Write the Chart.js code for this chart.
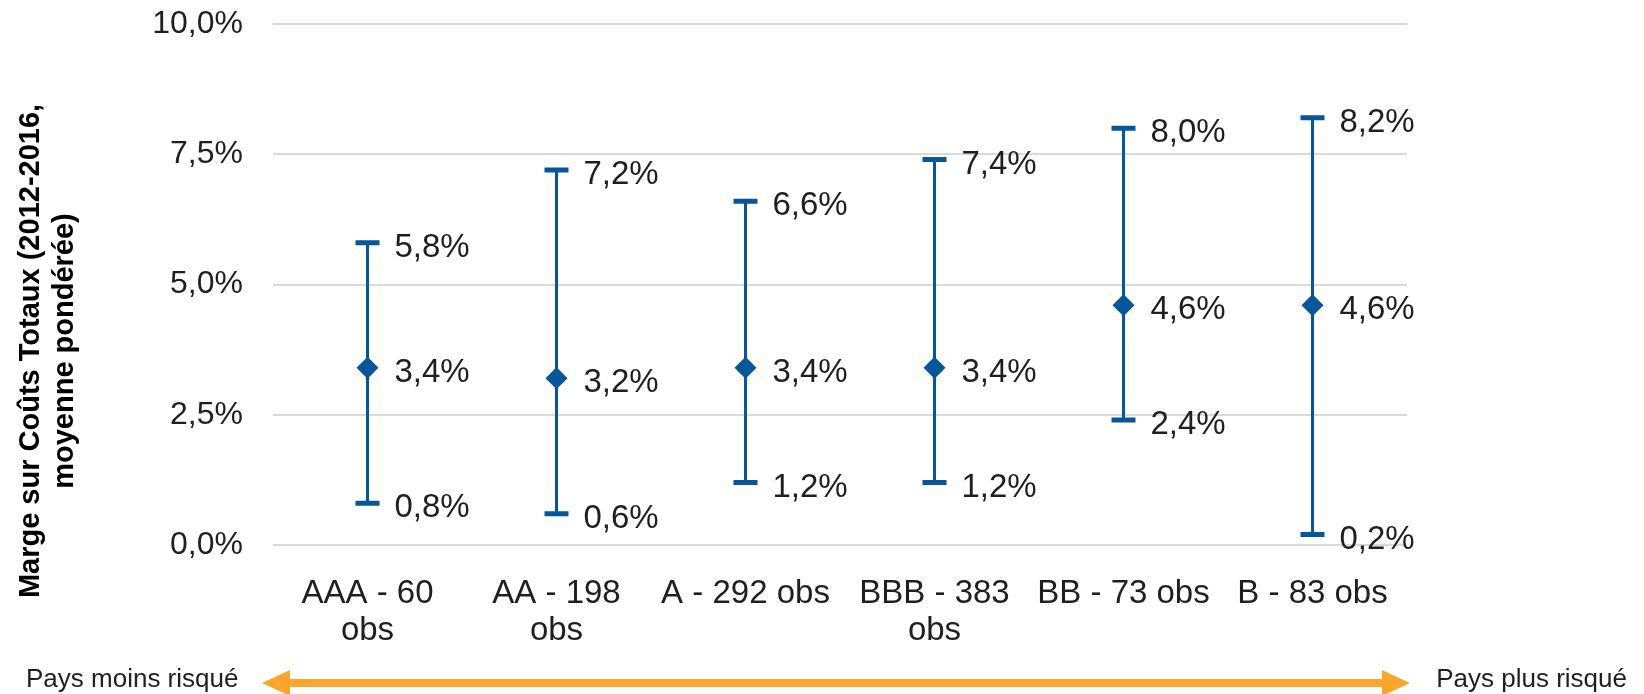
<!DOCTYPE html>
<html lang="fr">
<head>
  <meta charset="UTF-8" />
  <title>Marge sur Coûts Totaux</title>
  <script src="https://cdn.jsdelivr.net/npm/chart.js"></script>
  <style>
    body {
      margin: 0;
      background: white;
    }
    .wrap {
      width: 1644px;
      height: 694px;
    }
  </style>
</head>
<body>
  <div class="wrap">
    <canvas id="chart" width="1644" height="694"></canvas>
  </div>

  <script>
    const categories = [
      ['AAA - 60', 'obs'],
      ['AA - 198', 'obs'],
      'A - 292 obs',
      ['BBB - 383', 'obs'],
      'BB - 73 obs',
      'B - 83 obs'
    ];
    const moyenne = [3.4, 3.2, 3.4, 3.4, 4.6, 4.6];
    const bas = [0.8, 0.6, 1.2, 1.2, 2.4, 0.2];
    const haut = [5.8, 7.2, 6.6, 7.4, 8.0, 8.2];
    const yTicks = [0, 2.5, 5, 7.5, 10];

    const BLEU = '#06569A';
    const TEXTE = '#1f1f1f';
    const ORANGE = '#FBA62A';
    const fmt = v => v.toFixed(1).replace('.', ',') + '%';

    // barres d'erreur + étiquettes
    const errorBars = {
      id: 'errorBars',
      beforeDatasetsDraw(chart) {
        const ctx = chart.ctx;
        const x = chart.scales.x, y = chart.scales.y;
        ctx.save();
        ctx.strokeStyle = BLEU;
        moyenne.forEach((m, i) => {
          const px = x.getPixelForValue(i);
          const yl = y.getPixelForValue(bas[i]);
          const yh = y.getPixelForValue(haut[i]);
          ctx.lineWidth = 3;
          ctx.beginPath();
          ctx.moveTo(px, yl);
          ctx.lineTo(px, yh);
          ctx.stroke();
          ctx.lineWidth = 5;
          ctx.beginPath();
          ctx.moveTo(px - 12, yl); ctx.lineTo(px + 12, yl);
          ctx.moveTo(px - 12, yh); ctx.lineTo(px + 12, yh);
          ctx.stroke();
        });
        ctx.restore();
      },
      afterDatasetsDraw(chart) {
        const ctx = chart.ctx;
        const x = chart.scales.x, y = chart.scales.y;
        ctx.save();
        ctx.font = '33px "Liberation Sans", Arial, sans-serif';
        ctx.fillStyle = TEXTE;
        ctx.textAlign = 'left';
        ctx.textBaseline = 'middle';
        moyenne.forEach((m, i) => {
          const px = x.getPixelForValue(i) + 27;
          [bas[i], m, haut[i]].forEach(v => {
            ctx.fillText(fmt(v), px, y.getPixelForValue(v) + 5);
          });
        });
        ctx.restore();
      },
      afterDraw(chart) {
        const ctx = chart.ctx;
        ctx.save();
        // titre de l'axe Y
        ctx.fillStyle = '#000';
        ctx.font = 'bold 29px "Liberation Sans Narrow", "Arial Narrow", "Liberation Sans", sans-serif';
        ctx.textAlign = 'center';
        ctx.textBaseline = 'middle';
        ctx.save();
        ctx.translate(33, 351);
        ctx.rotate(-Math.PI / 2);
        ctx.fillText('Marge sur Coûts Totaux (2012-2016,', 0, -2);
        ctx.fillText('moyenne pondérée)', 0, 32);
        ctx.restore();

        // flèche orange
        const yA = 683, x1 = 262, x2 = 1410;
        ctx.fillStyle = ORANGE;
        ctx.fillRect(x1 + 26, yA - 4, x2 - x1 - 52, 8);
        ctx.beginPath();
        ctx.moveTo(x1, yA); ctx.lineTo(x1 + 28, yA - 13); ctx.lineTo(x1 + 28, yA + 13);
        ctx.closePath(); ctx.fill();
        ctx.beginPath();
        ctx.moveTo(x2, yA); ctx.lineTo(x2 - 28, yA - 13); ctx.lineTo(x2 - 28, yA + 13);
        ctx.closePath(); ctx.fill();

        ctx.fillStyle = TEXTE;
        ctx.font = '26px "Liberation Sans", Arial, sans-serif';
        ctx.textAlign = 'left';
        ctx.fillText('Pays moins risqué', 26, 680);
        ctx.textAlign = 'right';
        ctx.fillText('Pays plus risqué', 1627, 680);
        ctx.restore();
      }
    };

    new Chart(document.getElementById('chart'), {
      type: 'line',
      data: {
        labels: categories,
        datasets: [{
          data: moyenne,
          showLine: false,
          pointStyle: 'rectRot',
          pointRadius: 11,
          pointHoverRadius: 11,
          backgroundColor: BLEU,
          borderColor: BLEU,
          borderWidth: 0
        }]
      },
      options: {
        responsive: false,
        animation: false,
        layout: { padding: { top: 0, right: 237, left: 0, bottom: 0 } },
        plugins: {
          legend: { display: false },
          tooltip: { enabled: false }
        },
        scales: {
          x: {
            offset: true,
            grid: { display: false },
            border: { display: false },
            ticks: {
              color: TEXTE,
              padding: 22,
              maxRotation: 0,
              autoSkip: false,
              font: { family: '"Liberation Sans", Arial, sans-serif', size: 33, lineHeight: 1.12 }
            },
            afterFit(scale) { scale.height = 149; }
          },
          y: {
            min: 0,
            max: 10,
            afterBuildTicks(scale) { scale.ticks = yTicks.map(v => ({ value: v })); },
            grid: { color: '#D9D9D9', lineWidth: 2, drawTicks: false },
            border: { display: false },
            ticks: {
              color: TEXTE,
              padding: 30,
              callback: v => fmt(v),
              font: { family: '"Liberation Sans", Arial, sans-serif', size: 32, lineHeight: 1.2 }
            },
            afterFit(scale) { scale.width = 273; scale.paddingTop = 24; }
          }
        }
      },
      plugins: [errorBars]
    });
  </script>
</body>
</html>
